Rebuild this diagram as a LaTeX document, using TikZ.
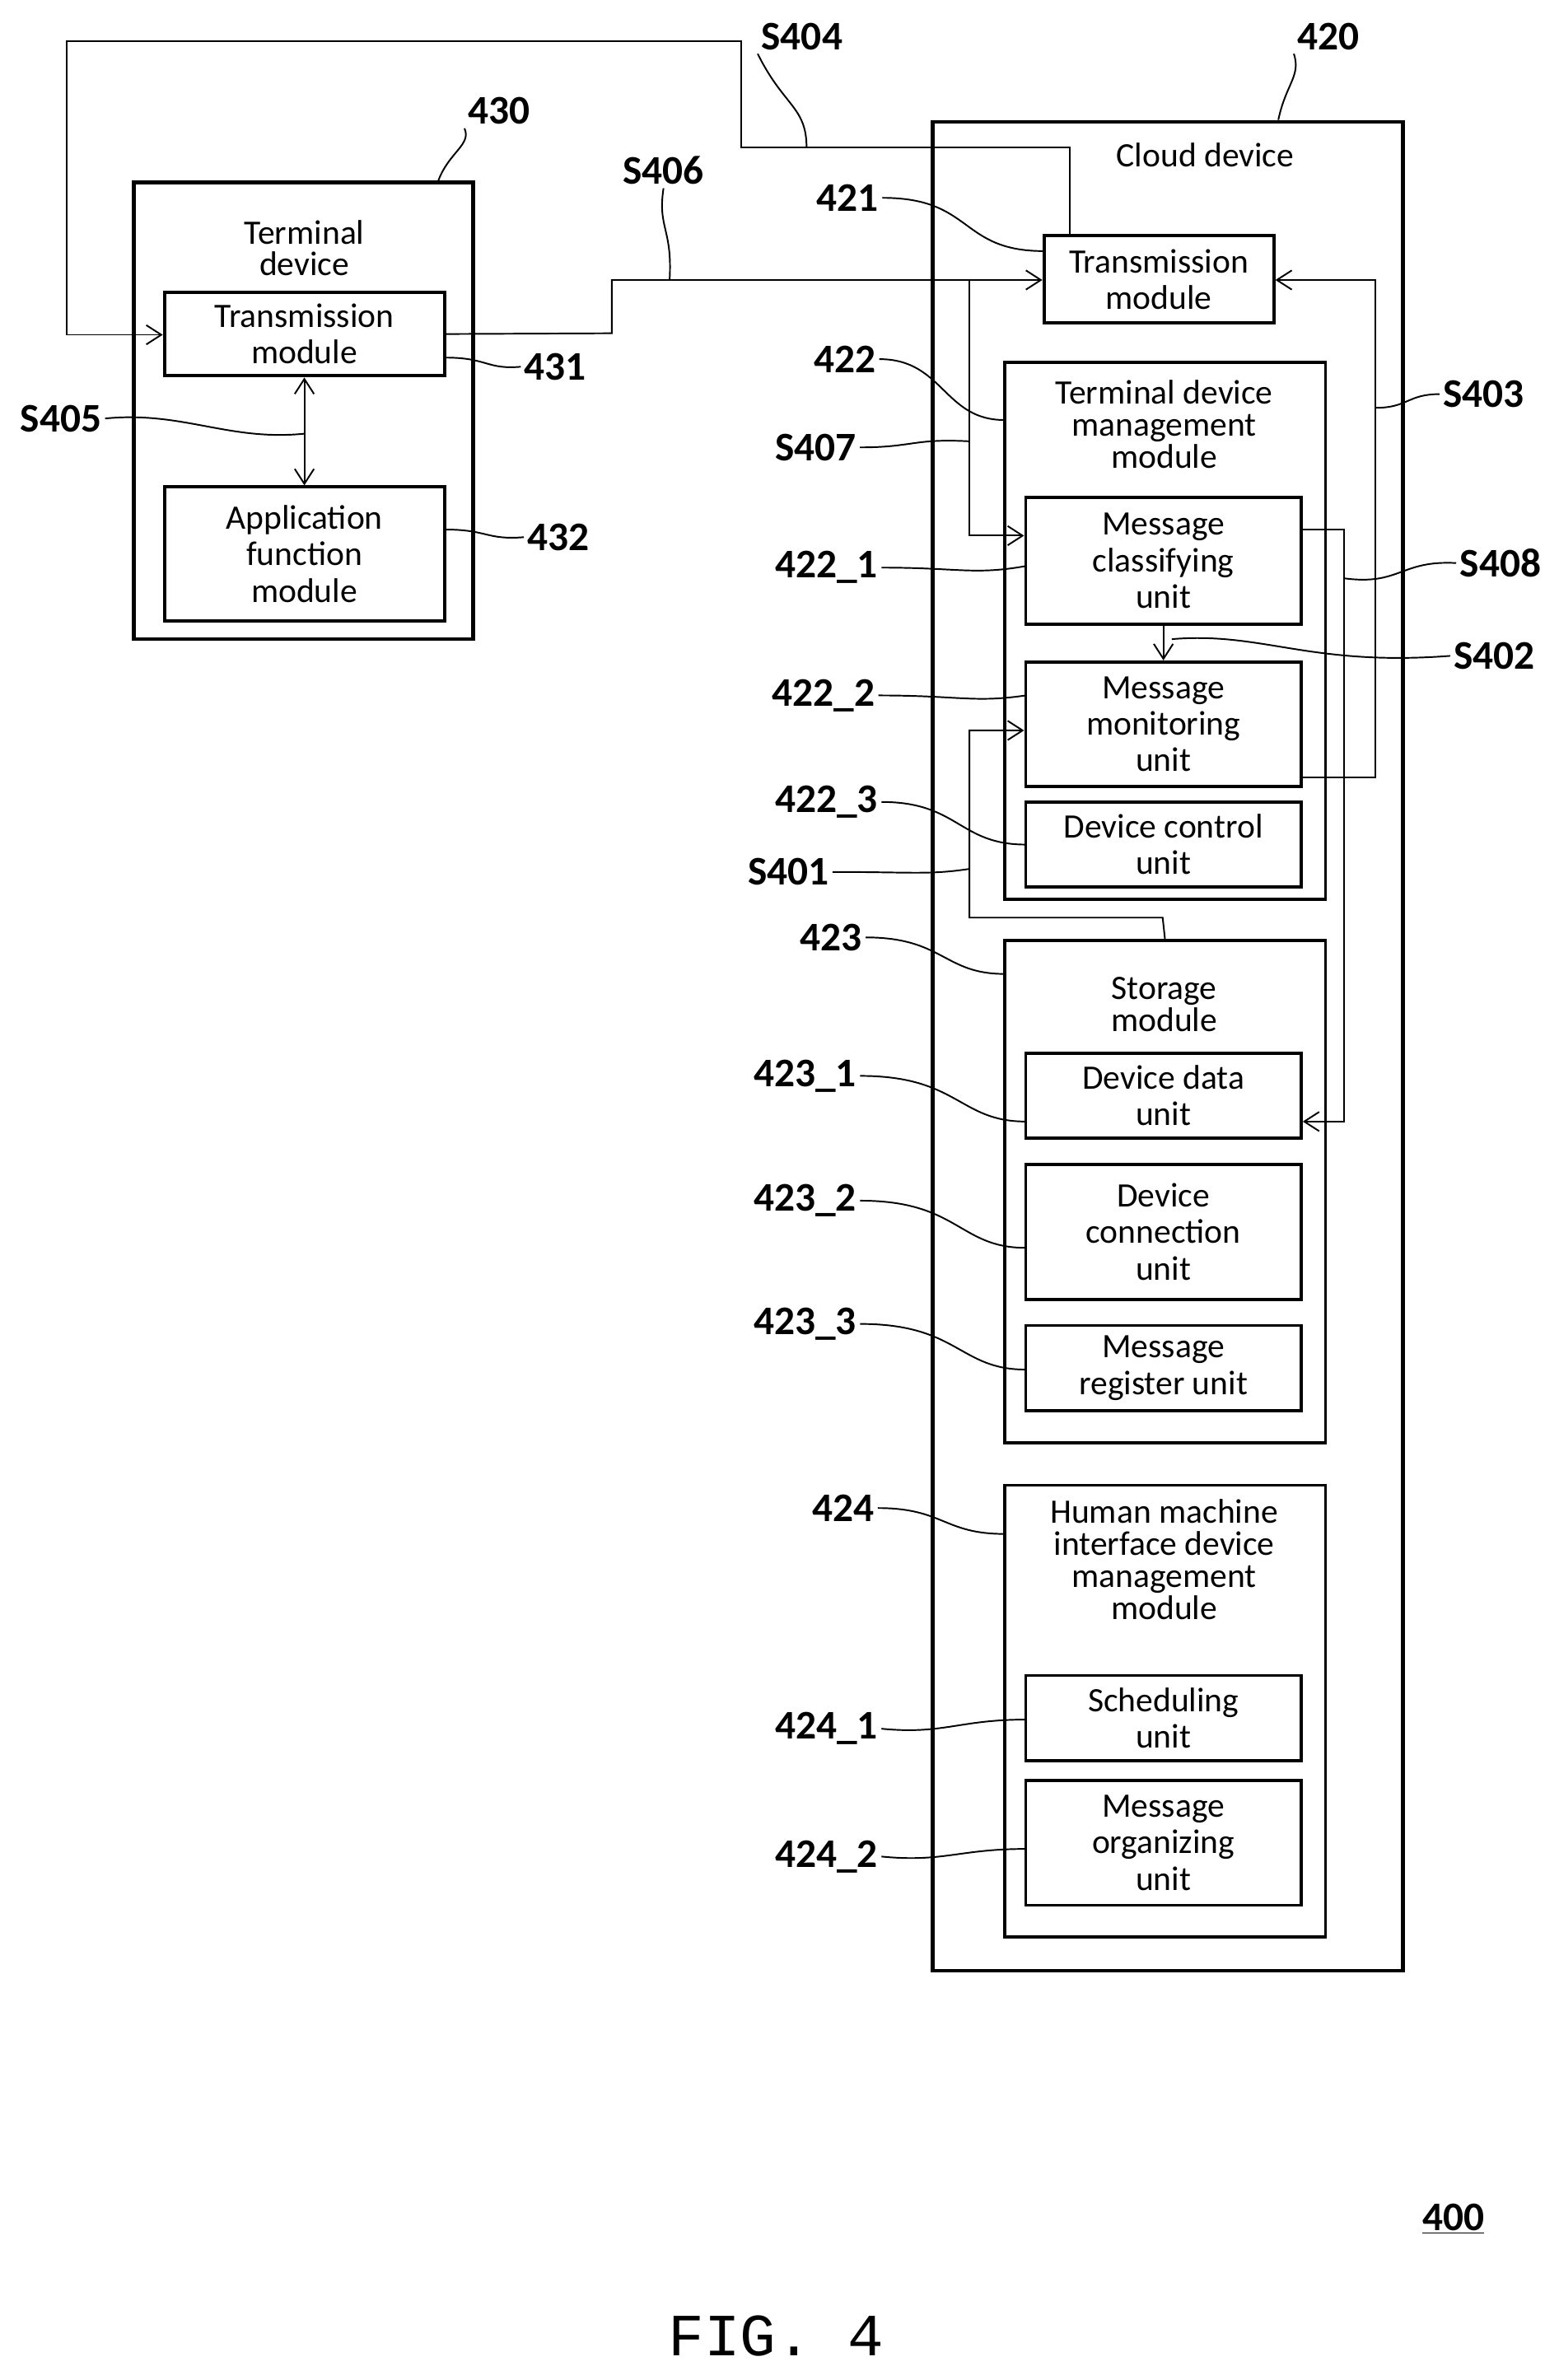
\documentclass[tikz,border=0pt]{standalone}
\usepackage{fontspec}
\setmainfont{Carlito}
\newfontfamily\monofont{Liberation Mono}
\usetikzlibrary{arrows.meta, positioning}

\begin{document}
\begin{tikzpicture}[
    x=0.05cm, y=-0.05cm,
    box/.style={rectangle, draw, line width=3pt, inner sep=0pt, align=center},
    unit/.style={box, minimum width=9.05cm, font=\fontsize{32}{34}\selectfont},
    title/.style={align=center, font=\fontsize{32}{30}\selectfont},
    num/.style={font=\fontsize{38}{40}\selectfont\bfseries},
    arrow/.style={-{Straight Barb[length=14pt, width=18pt]}, line width=1.5pt},
    lead/.style={line width=1.5pt},
    wire/.style={line width=1.5pt}
]
    \useasboundingbox (0,0) rectangle (1024,1564);

    % containers
    \node[box, line width=3.5pt, minimum width=15.45cm, minimum height=60.75cm] (cloud) at (767.5,687.5) {};
    \node[box, line width=3.5pt, minimum width=11.15cm, minimum height=15cm] (term) at (199.5,270) {};
    \node[box, minimum width=10.55cm, minimum height=17.65cm] (tdm) at (765.5,414.5) {};
    \node[box, minimum width=10.55cm, minimum height=16.5cm] (sto) at (765.5,783) {};
    \node[box, minimum width=10.55cm, minimum height=14.85cm] (hmi) at (765.5,1124.5) {};

    \node[title] at (792,102) {Cloud device};
    \node[title] at (200,163) {Terminal\\device};
    \node[title] at (765,279) {Terminal device\\management\\module};
    \node[title] at (765,660) {Storage\\module};
    \node[title] at (765,1025) {Human machine\\interface device\\management\\module};

    % units
    \node[unit, minimum width=9.2cm, minimum height=2.75cm] (tm431) at (200,219.5) {Transmission\\module};
    \node[unit, minimum width=9.2cm, minimum height=4.4cm] (app432) at (200,364) {Application\\function\\module};
    \node[unit, minimum width=7.55cm, minimum height=2.85cm] (tm421) at (761.5,183.5) {Transmission\\module};
    \node[unit, minimum height=4.15cm] (mc) at (764.5,368.5) {Message\\classifying\\unit};
    \node[unit, minimum height=4.1cm] (mm) at (764.5,476) {Message\\monitoring\\unit};
    \node[unit, minimum height=2.8cm] (dc) at (764.5,555) {Device control\\unit};
    \node[unit, minimum height=2.8cm] (dd) at (764.5,720) {Device data\\unit};
    \node[unit, minimum height=4.45cm] (dcn) at (764.5,809.5) {Device\\connection\\unit};
    \node[unit, minimum height=2.8cm] (mr) at (764.5,899) {Message\\register unit};
    \node[unit, minimum height=2.8cm] (sch) at (764.5,1129) {Scheduling\\unit};
    \node[unit, minimum height=4.1cm] (mo) at (764.5,1211) {Message\\organizing\\unit};

    % connectors
    \coordinate (j406) at (637,184);
    \draw[arrow] (tm421.north -| 703,0) -- (703,97) -- (487,97) -- (487,27) -- (44,27) -- (44,220) -- (tm431.west |- 0,220);
    \draw[arrow] (tm431.east) -- (402,219) -- (402,184) -- (tm421.west |- 0,184);
    \draw[arrow] (j406) -- (637,352) -- (mc.west |- 0,352);
    \draw[arrow] (mm.east |- 0,511) -- (904,511) -- (904,184) -- (tm421.east |- 0,184);
    \draw[arrow] (mc.east |- 0,348) -- (883,348) -- (883,737) -- (dd.east |- 0,737);
    \draw[arrow] (mc.south) -- (mm.north);
    \draw[arrow] (sto.north) -- (764,603) -- (637,603) -- (637,480) -- (mm.west |- 0,480);
    \draw[arrow, {Straight Barb[length=14pt, width=18pt]}-{Straight Barb[length=14pt, width=18pt]}] (tm431.south) -- (app432.north);

    % reference numerals
    \node[num] (l420) at (873,24) {420};
    \node[num] (l430) at (328,73) {430};
    \node[num] (l404) at (527,24) {S404};
    \node[num] (l406) at (436,112) {S406};
    \node[num] (l421) at (557,130) {421};
    \node[num] (l422) at (555,236) {422};
    \node[num] (l407) at (536,294) {S407};
    \node[num] (l4221) at (543,373) {422\_1};
    \node[num] (l4222) at (541,457) {422\_2};
    \node[num] (l4223) at (543,527) {422\_3};
    \node[num] (l401) at (518,573) {S401};
    \node[num] (l423) at (546,616) {423};
    \node[num] (l4231) at (529,707) {423\_1};
    \node[num] (l4232) at (529,789) {423\_2};
    \node[num] (l4233) at (529,870) {423\_3};
    \node[num] (l424) at (554,991) {424};
    \node[num] (l4241) at (543,1136) {424\_1};
    \node[num] (l4242) at (543,1220) {424\_2};
    \node[num] (l431) at (365,241) {431};
    \node[num] (l432) at (367,353) {432};
    \node[num] (l405) at (40,275) {S405};
    \node[num] (l403) at (975,259) {S403};
    \node[num] (l408) at (986,370) {S408};
    \node[num] (l402) at (982,431) {S402};

    % leaders
    \draw[lead] (cloud.north -| 840,0) .. controls (845,55) and (855,50) .. (l420.south west);
    \draw[lead] (term.north -| 288,0) .. controls (295,100) and (310,95) .. (l430.south west);
    \draw[lead] (l404.south west) .. controls (515,70) and (530,70) .. (530,97);
    \draw[lead] (l406.south) .. controls (432,150) and (442,150) .. (440,184);
    \draw[lead] (l421.east) .. controls (640,130) and (630,165) .. (686,165);
    \draw[lead] (l422.east) .. controls (620,236) and (620,276) .. (660,276);
    \draw[lead] (l407.east) .. controls (600,294) and (600,288) .. (637,290);
    \draw[lead] (l4221.east) .. controls (630,373) and (640,378) .. (674,372);
    \draw[lead] (l4222.east) .. controls (630,457) and (640,462) .. (674,457);
    \draw[lead] (l4223.east) .. controls (630,527) and (630,555) .. (674,555);
    \draw[lead] (l401.east) .. controls (600,573) and (610,575) .. (637,571);
    \draw[lead] (l423.east) .. controls (620,616) and (620,640) .. (660,640);
    \draw[lead] (l4231.east) .. controls (630,707) and (630,737) .. (674,737);
    \draw[lead] (l4232.east) .. controls (630,789) and (630,820) .. (674,820);
    \draw[lead] (l4233.east) .. controls (630,870) and (630,900) .. (674,900);
    \draw[lead] (l424.east) .. controls (620,991) and (620,1008) .. (660,1008);
    \draw[lead] (l4241.east) .. controls (620,1140) and (630,1130) .. (674,1130);
    \draw[lead] (l4242.east) .. controls (620,1224) and (630,1215) .. (674,1215);
    \draw[lead] (tm431.east |- 0,235) .. controls (320,235) and (320,243) .. (l431.west);
    \draw[lead] (app432.east |- 0,348) .. controls (320,348) and (320,355) .. (l432.west);
    \draw[lead] (l405.east) .. controls (120,270) and (150,290) .. (200,285);
    \draw[lead] (904,268) .. controls (925,268) and (925,259) .. (l403.west);
    \draw[lead] (883,380) .. controls (920,385) and (920,368) .. (l408.west);
    \draw[lead] (770,420) .. controls (830,415) and (860,438) .. (l402.west);

    % figure captions
    \node[font=\fontsize{38}{40}\selectfont\bfseries] (l400) at (955,1458) {\underline{400}};
    \node[font=\fontsize{56}{60}\selectfont\monofont] (fig) at (510,1535) {FIG. 4};
\end{tikzpicture}
\end{document}
